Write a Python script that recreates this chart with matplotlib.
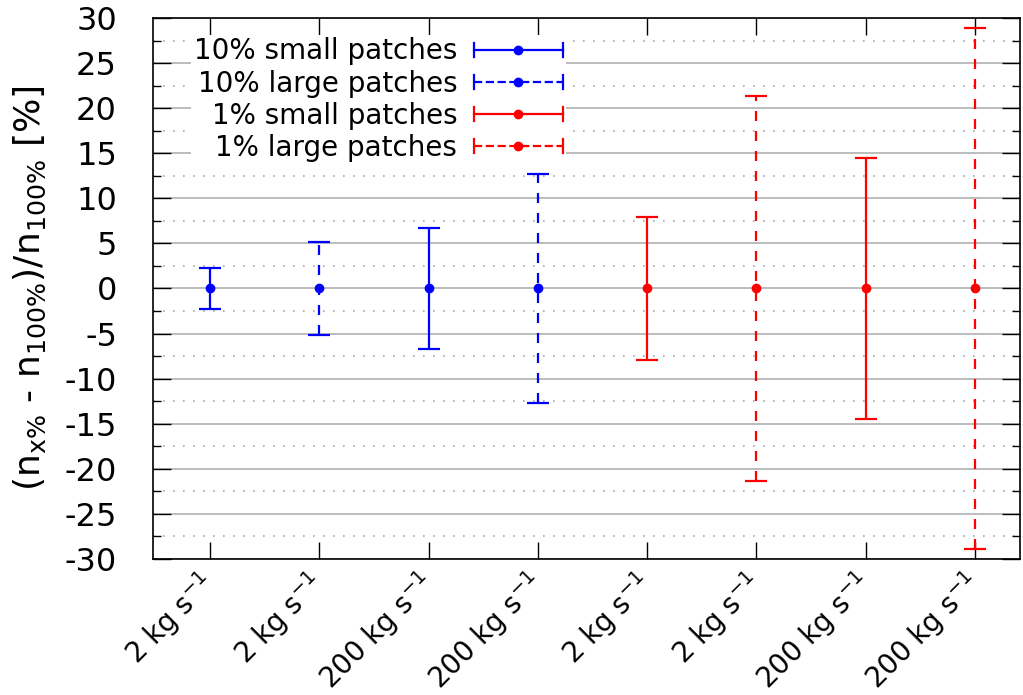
import matplotlib.pyplot as plt
from matplotlib.ticker import MultipleLocator
from matplotlib.legend_handler import HandlerBase
from matplotlib.lines import Line2D

plt.rcParams['axes.unicode_minus'] = False

# data
labels = ['2 kg s$^{-1}$', '2 kg s$^{-1}$', '200 kg s$^{-1}$', '200 kg s$^{-1}$',
          '2 kg s$^{-1}$', '2 kg s$^{-1}$', '200 kg s$^{-1}$', '200 kg s$^{-1}$']
series = ['10% small patches', '10% large patches', '1% small patches', '1% large patches']
colors = ['#0000ff', '#0000ff', '#ff0000', '#ff0000']
dashed = [False, True, False, True]
positions = [[1, 3], [2, 4], [5, 7], [6, 8]]
means = [[0, 0], [0, 0], [0, 0], [0, 0]]
errs = [[2.3, 6.7], [5.2, 12.7], [7.9, 14.5], [21.3, 28.9]]

DASH = (0, (4.5, 4.5))


class HandlerHorizontalErr(HandlerBase):
    # gnuplot style legend sample: horizontal bar with end caps and a dot
    def create_artists(self, legend, orig_handle, xdescent, ydescent,
                       width, height, fontsize, trans):
        c = orig_handle.get_color()
        ls = orig_handle.get_linestyle()
        y = height / 2 - ydescent
        x0, x1 = -xdescent, width - xdescent
        bar = Line2D([x0, x1], [y, y], color=c, lw=1.6, ls=ls)
        cap0 = Line2D([x0, x0], [y - 5, y + 5], color=c, lw=1.6)
        cap1 = Line2D([x1, x1], [y - 5, y + 5], color=c, lw=1.6)
        dot = Line2D([(x0 + x1) / 2], [y], color=c, marker='o', ms=6, ls='none')
        arts = [bar, cap0, cap1, dot]
        for a in arts:
            a.set_transform(trans)
        return arts


fig = plt.figure(figsize=(10.23, 6.95), dpi=100)
ax = fig.add_axes([0.1496, 0.1957, 0.8474, 0.7784])

handles = []
for i in range(4):
    eb = ax.errorbar(positions[i], means[i], yerr=errs[i], fmt='o', color=colors[i],
                     ms=6, elinewidth=1.6, capsize=8, capthick=1.6, zorder=3)
    if dashed[i]:
        eb[2][0].set_linestyle(DASH)
    handles.append(Line2D([], [], color=colors[i], ls=DASH if dashed[i] else '-'))

ax.set_xlim(0.48, 8.41)
ax.set_ylim(-30, 30)
ax.set_xticks(range(1, 9))
ax.set_xticklabels(labels, rotation=45, ha='right', va='center',
                   rotation_mode='anchor', fontsize=20)
ax.yaxis.set_major_locator(MultipleLocator(5))
ax.yaxis.set_minor_locator(MultipleLocator(2.5))
ax.tick_params(axis='y', which='major', direction='in', length=13, width=1,
               labelsize=23, right=True, pad=26)
ax.tick_params(axis='y', which='minor', direction='in', length=6, width=1, right=True)
ax.tick_params(axis='x', which='major', direction='in', length=12, width=1,
               top=True, pad=14)
ax.tick_params(axis='x', which='minor', bottom=False, top=False)

ax.grid(True, axis='y', which='major', color='#b0b0b0', lw=1.2, ls='-', zorder=0)
ax.grid(True, axis='y', which='minor', color='#a8a8a8', lw=1.2, ls=(0, (1, 5)), zorder=0)
ax.set_axisbelow(True)
for s in ax.spines.values():
    s.set_linewidth(1.2)

ax.set_ylabel(r'(n$_{\mathrm{x\%}}$ - n$_{\mathrm{100\%}}$)/n$_{\mathrm{100\%}}$ [%]',
              fontsize=26, labelpad=12)

leg = ax.legend(handles, series, loc='upper left', bbox_to_anchor=(0.028, 0.995),
                markerfirst=False, frameon=True, fancybox=False, edgecolor='none',
                facecolor='white', framealpha=1, fontsize=20, handlelength=3.2,
                labelspacing=0.15, borderpad=0.1, handletextpad=0.6,
                handler_map={Line2D: HandlerHorizontalErr()})
for t in leg.get_texts():
    t.set_ha('right')

fig.savefig('out.png', dpi=100)
